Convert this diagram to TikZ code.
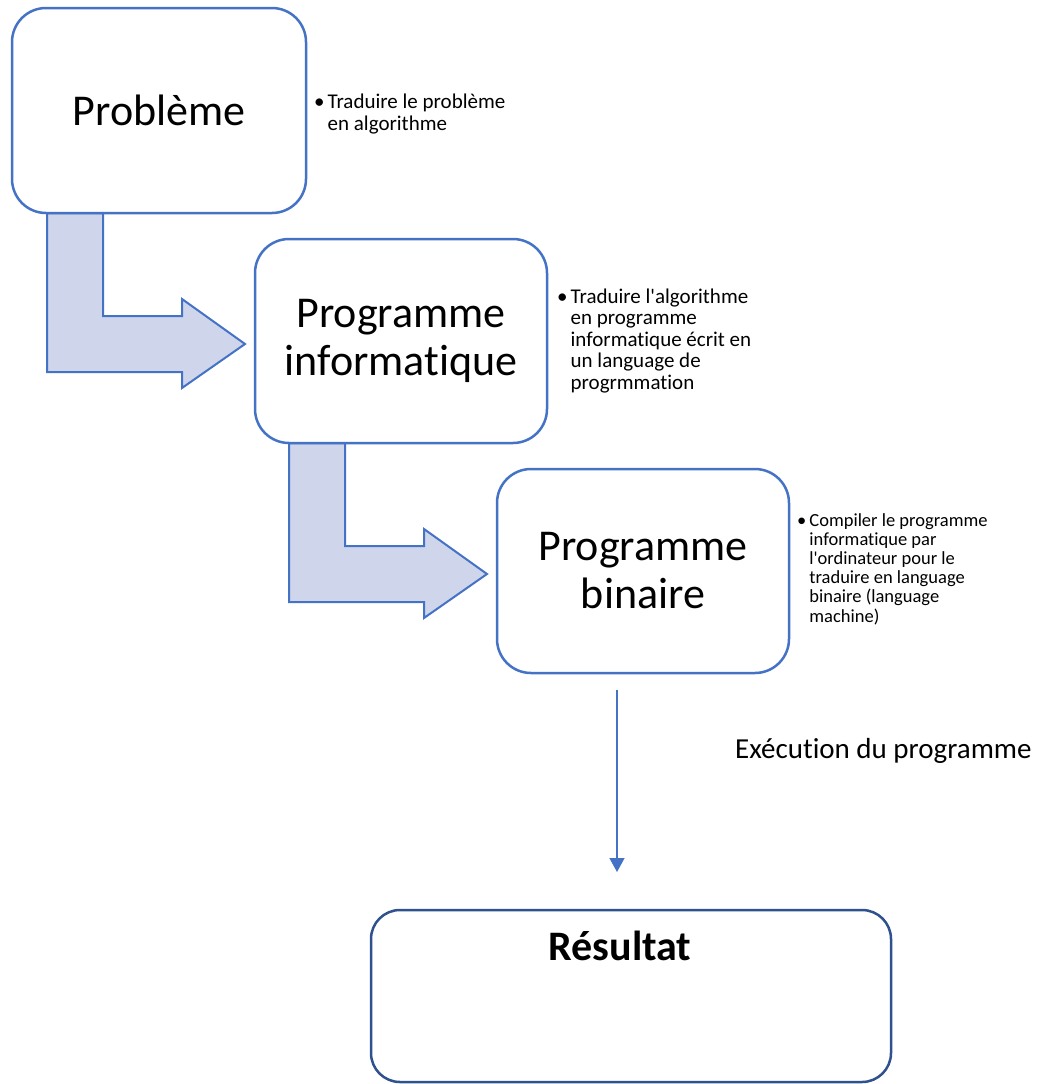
\documentclass[tikz,border=0pt]{standalone}
\usepackage{fontspec}
\setmainfont{Carlito}[Ligatures={TeX,NoCommon}]
\usetikzlibrary{positioning,arrows.meta}
\definecolor{accent}{HTML}{4472C4}
\definecolor{accentdark}{HTML}{2F528F}
\definecolor{arrowfill}{HTML}{CFD5EA}
\tikzset{
  stage/.style={draw=accent, line width=2.5pt, fill=white, rounded corners=34pt, inner sep=0pt, align=center, font=\fontsize{44}{48}\selectfont},
  note/.style={inner sep=0pt, anchor=base west},
  bendarrow/.style={draw=accent, line width=2pt, fill=arrowfill, line join=miter},
}
% L-shaped block arrow, shifted by (#1,#2)
\newcommand{\bentarrow}[2]{\draw[bendarrow, shift={(#1,#2)}] (47,213) -- (103,213) -- (103,316) -- (182,316) -- (182,299)
  -- (245,344) -- (182,388) -- (182,372) -- (47,372) -- cycle;}
\newcommand{\bulletnote}[3]{\fontsize{#1}{#2}\selectfont\begin{tabular}[t]{@{}l@{\hspace{3pt}}l@{}}\textbullet & #3\end{tabular}}

\begin{document}
\begin{tikzpicture}[x=1pt, y=-1pt]
  \useasboundingbox (0,0) rectangle (1038,1084);
  % ------------------------------------------------------------------ block arrows
  \bentarrow{0}{0}
  \bentarrow{242}{230}
  % ------------------------------------------------------------------ stages
  \node[stage, minimum width=294pt, minimum height=205pt] (prob) at (159,110.5) {Problème};
  \node[stage, minimum width=292pt, minimum height=204pt] (info) at (401,341) {Programme\\informatique};
  \node[stage, minimum width=292pt, minimum height=204pt] (bin) at (643,571) {Programme\\binaire};
  \node[note] (n1) at (314,108) {\bulletnote{21}{22}{Traduire le problème\\ & en algorithme}};
  \node[note] (n2) at (557,303) {\bulletnote{21}{21.5}{Traduire l\textquotesingle algorithme\\ & en programme\\ & informatique écrit en\\ & un language de\\ & progrmmation}};
  \node[note] (n3) at (797,526) {\bulletnote{18.5}{19.2}{Compiler le programme\\ & informatique par\\ & l\textquotesingle ordinateur pour le\\ & traduire en language\\ & binaire (language\\ & machine)}};
  % ------------------------------------------------------------------ execution
  \coordinate (exectop) at (617,690);
  \coordinate (execend) at (617,872);
  \draw[accent, line width=1.5pt, -{Triangle[width=15pt,length=14pt]}] (exectop) -- (execend);
  \node[note, font=\fontsize{29}{34}\selectfont] (exec) at (735,758) {Exécution du programme};
  % ------------------------------------------------------------------ result
  \node[stage, draw=accentdark, rounded corners=29pt, minimum width=520pt, minimum height=172pt] (res) at (631,996) {};
  \node[inner sep=0pt, anchor=base, font=\fontsize{42}{48}\selectfont\bfseries] (restitle) at (620,960) {Résultat};
\end{tikzpicture}
\end{document}
